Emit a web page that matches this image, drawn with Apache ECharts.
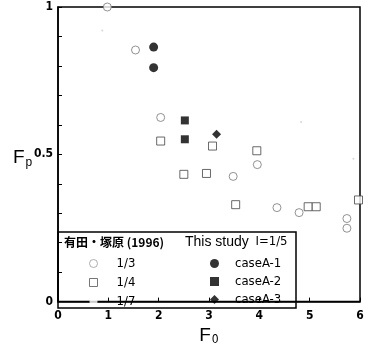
<!DOCTYPE html>
<html>
<head>
<meta charset="utf-8">
<script src="https://cdn.jsdelivr.net/npm/echarts@6/dist/echarts.min.js"></script>
<style>html,body{margin:0;padding:0;background:#fff;}#c{width:370px;height:351px;}</style>
</head>
<body>
<div id="c"></div>
<script>
// Arita & Tsukahara (1996), slope 1/3 (hollow circles)
const arita13 = [[0.98,1.0],[1.54,0.854],[2.04,0.625],[3.96,0.465],[3.48,0.425],[4.35,0.319],[4.79,0.302],[5.74,0.282],[5.74,0.249]];
// slope 1/4 (hollow squares)
const arita14 = [[2.04,0.545],[2.5,0.432],[2.95,0.435],[3.07,0.528],[3.95,0.512],[3.53,0.329],[4.97,0.322],[5.13,0.322],[5.97,0.345]];
// slope 1/7 (very faint marks)
const arita17 = [[0.88,0.92],[4.83,0.61],[5.87,0.485]];
// This study I=1/5
const caseA1 = [[1.9,0.864],[1.9,0.794]];
const caseA2 = [[2.52,0.615],[2.52,0.551]];
const caseA3 = [[3.15,0.568]];
const xTicks = [0,1,2,3,4,5,6];
const yLabels = ['0','0.5','1'];

const numFont = '"Liberation Sans Narrow", "DejaVu Sans Condensed", sans-serif';
const chart = echarts.init(document.getElementById('c'));
chart.setOption({
  animation: false,
  backgroundColor: '#fff',
  grid: {left: 58, right: 10, top: 7, bottom: 43, show: true, borderColor: '#000', borderWidth: 1.5, backgroundColor: 'transparent'},
  xAxis: {
    type: 'value', min: xTicks[0], max: xTicks[xTicks.length-1], interval: 1,
    axisLine: {show: true, lineStyle: {color: '#000', width: 1.5}},
    axisTick: {show: true, inside: true, length: 4, lineStyle: {color: '#000'}},
    axisLabel: {color: '#000', fontFamily: numFont, fontWeight: 'bold', fontSize: 12, margin: 8},
    splitLine: {show: false},
    name: '{F|F}{s|0}', nameLocation: 'middle', nameGap: 18,
    nameTextStyle: {rich: {F: {fontSize: 19, fontFamily: 'Liberation Sans', color: '#000'}, s: {fontSize: 12, fontFamily: numFont, color: '#000', padding: [8,0,0,1]}}}
  },
  yAxis: {
    type: 'value', min: 0, max: 1, interval: 0.1,
    axisLine: {show: true, lineStyle: {color: '#000', width: 1.5}},
    axisTick: {show: true, inside: true, length: 4, lineStyle: {color: '#000'}},
    axisLabel: {color: '#000', fontFamily: numFont, fontWeight: 'bold', fontSize: 12, margin: 5,
      formatter: v => { const s = String(Math.round(v*10)/10); return yLabels.indexOf(s) >= 0 ? s : ''; }},
    splitLine: {show: false}
  },
  legend: [
    {
      data: [
        {name: '1/3', icon: 'circle', itemStyle: {color: '#fff', borderColor: '#999', borderWidth: 1}},
        {name: '1/4', icon: 'rect', itemStyle: {color: '#fff', borderColor: '#555', borderWidth: 1}},
        {name: '1/7', icon: 'circle', itemStyle: {color: '#fff', borderColor: '#fff', borderWidth: 0}}
      ],
      orient: 'vertical', left: 89, top: 257, padding: 0, itemWidth: 8, itemHeight: 8, itemGap: 6,
      selectedMode: false,
      textStyle: {color: '#000', fontFamily: numFont, fontSize: 13, lineHeight: 12, padding: [0,0,0,14]}
    },
    {
      data: [
        {name: 'caseA-1', icon: 'circle'},
        {name: 'caseA-2', icon: 'rect'},
        {name: 'caseA-3', icon: 'diamond'}
      ],
      orient: 'vertical', left: 210, top: 257, padding: 0, itemWidth: 9, itemHeight: 9, itemGap: 5,
      selectedMode: false,
      textStyle: {color: '#000', fontFamily: numFont, fontSize: 13, lineHeight: 12, padding: [0,0,0,11]}
    }
  ],
  graphic: [
    {type: 'rect', shape: {x: 58, y: 232, width: 238, height: 76}, style: {fill: 'transparent', stroke: '#000', lineWidth: 1.5}, z: 10},
    {type: 'text', left: 64, top: 236, z: 11, style: {text: '有田・塚原 (1996)', fill: '#000', font: 'bold 12px "Noto Sans CJK JP", sans-serif'}},
    {type: 'text', left: 185, top: 235, z: 11, style: {text: '{a|This study}  {b|I=1/5}', rich: {a: {fontSize: 14, fontFamily: 'Liberation Sans', fill: '#000'}, b: {fontSize: 13, fontFamily: numFont, fill: '#000'}}}},
    {type: 'text', left: 13, top: 148, z: 11, style: {text: '{F|F}{s|p}', rich: {F: {fontSize: 19, fontFamily: 'Liberation Sans', fill: '#000'}, s: {fontSize: 12, fontFamily: 'Liberation Sans', fill: '#000', padding: [10,0,0,1]}}}}
  ],
  series: [
    {name: '1/3', type: 'scatter', data: arita13, symbol: 'circle', symbolSize: 8, itemStyle: {color: '#fff', borderColor: '#777', borderWidth: 1}},
    {name: '1/4', type: 'scatter', data: arita14, symbol: 'rect', symbolSize: 8, itemStyle: {color: '#fff', borderColor: '#444', borderWidth: 1}},
    {name: '1/7', type: 'scatter', data: arita17, symbol: 'circle', symbolSize: 2, itemStyle: {color: '#ccc'}},
    {name: 'caseA-1', type: 'scatter', data: caseA1, symbol: 'circle', symbolSize: 9, itemStyle: {color: '#000'}},
    {name: 'caseA-2', type: 'scatter', data: caseA2, symbol: 'rect', symbolSize: 8, itemStyle: {color: '#000'}},
    {name: 'caseA-3', type: 'scatter', data: caseA3, symbol: 'diamond', symbolSize: 9, itemStyle: {color: '#000'}}
  ]
});
</script>
</body>
</html>
